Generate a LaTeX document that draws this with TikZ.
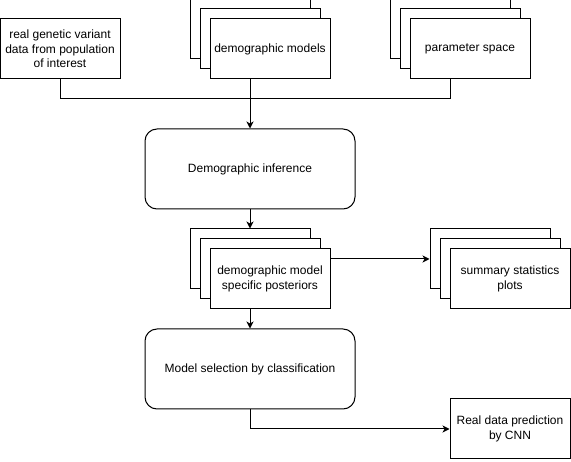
\documentclass[tikz,border=0pt]{standalone}
\usepackage{fontspec}
\setmainfont{Liberation Sans}
\usetikzlibrary{arrows.meta}
\begin{document}
\begin{tikzpicture}[x=1pt,y=-1pt,
  every node/.style={font=\fontsize{12}{14.4}\selectfont, align=center, inner sep=0pt},
  card/.style={draw, line width=1pt, fill=white, minimum width=120pt, minimum height=60pt},
  bigbox/.style={draw, line width=1pt, fill=white, rounded corners=12pt, minimum width=210pt, minimum height=80pt},
  conn/.style={line width=1pt},
  arr/.style={conn, -{Stealth[length=7pt,width=7pt,inset=2pt]}}]
\useasboundingbox (0,0) rectangle (571,462);
% input box
\node[card] (real) at (60,49) {real genetic variant\\data from population\\of interest};
% demographic models stack
\node[card] (dmback) at (250,29) {};
\node[card] (dmmid) at (260,39) {};
\node[card] (dmfront) at (270,49) {demographic models};
% parameter space stack
\node[card] (parback) at (450,29) {};
\node[card] (parmid) at (460,39) {};
\node[card] (parfront) at (470,49) {parameter space};
% inference
\node[bigbox] (inf) at (250,169) {Demographic inference};
% posteriors stack
\node[card] (postback) at (250,259) {};
\node[card] (postmid) at (260,269) {};
\node[card] (postfront) at (270,279) {demographic model\\specific posteriors};
% summary stack
\node[card] (sumback) at (490,259) {summary statistics\\plots};
\node[card] (summid) at (500,269) {summary statistics\\plots};
\node[card] (sumfront) at (510,279) {summary statistics\\plots};
% model selection
\node[bigbox] (sel) at (250,369) {Model selection by classification};
% prediction
\node[card] (pred) at (510,429) {Real data prediction\\by CNN};
% connectors
\coordinate (junc) at (250,99);
\draw[conn] (real.south) |- (junc);
\draw[conn] (parback.south |- parfront.south) |- (junc);
\draw[conn] (dmback.south |- dmfront.south) -- (junc);
\draw[arr] (junc) -- (inf.north);
\draw[arr] (inf.south) -- (postback.north);
\draw[arr] (postfront.east |- postback.east) -- (sumback.west);
\draw[arr] (postback.south |- postfront.south) -- (sel.north);
\draw[arr] (sel.south) |- (pred.west);
\end{tikzpicture}
\end{document}
